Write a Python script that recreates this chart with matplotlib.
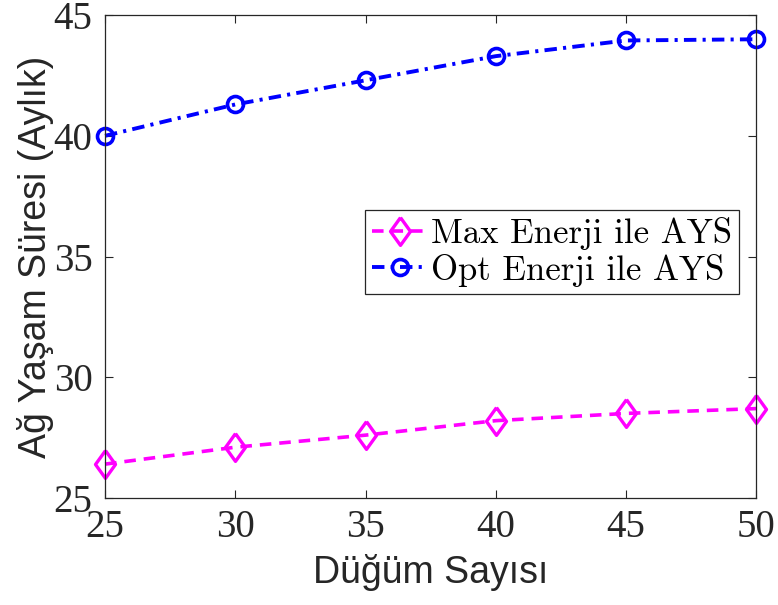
import matplotlib
matplotlib.use("Agg")
import matplotlib.pyplot as plt

plt.rcParams["font.family"] = ["Liberation Serif", "DejaVu Serif"]

nodes = [25, 30, 35, 40, 45, 50]
max_energy = [26.4, 27.1, 27.6, 28.2, 28.5, 28.7]
opt_energy = [40.0, 41.3, 42.3, 43.3, 43.95, 44.0]
xticks = [25, 30, 35, 40, 45, 50]
yticks = [25, 30, 35, 40, 45]
labels = ["Max Enerji ile AYS", "Opt Enerji ile AYS"]

fig = plt.figure(figsize=(7.78, 6.05), dpi=100)
ax = fig.add_axes([0.135, 0.177, 0.837, 0.798])

diamond = [(0, 1), (0.72, 0), (0, -1), (-0.72, 0), (0, 1)]
ax.plot(nodes, max_energy, linestyle=(0, (3.2, 2.2)), color="#ff00ff", lw=2.6,
        marker=diamond, markersize=20, markerfacecolor="none",
        markeredgecolor="#ff00ff", markeredgewidth=2.4, label=labels[0], clip_on=False)
ax.plot(nodes, opt_energy, linestyle=(0, (3.2, 1.6, 0.8, 1.6)), color="#0000ff", lw=2.8,
        marker="o", markersize=11.5, markerfacecolor="none",
        markeredgecolor="#0000ff", markeredgewidth=2.6, label=labels[1], clip_on=False)

ax.set_xlim(25, 50)
ax.set_ylim(25, 45)
tick_font = dict(fontfamily="Liberation Serif", fontsize=28, color="#262626")
ax.set_xticks(xticks, labels=[str(v) for v in xticks], **tick_font)
ax.set_yticks(yticks, labels=[str(v) for v in yticks], **tick_font)
ax.tick_params(axis="both", direction="in", top=True, right=True, length=6, width=0.8,
               color="#262626")
ax.tick_params(axis="x", pad=8)
ax.tick_params(axis="y", pad=9)
for s in ax.spines.values():
    s.set_color("#262626")
    s.set_linewidth(0.9)

ax.set_xlabel("Düğüm Sayısı", fontfamily="Liberation Sans", fontsize=27, color="#262626", labelpad=6)
ax.set_ylabel("Ağ Yaşam Süresi (Aylık)", fontfamily="Liberation Sans", fontsize=27, color="#262626", labelpad=0)

leg = ax.legend(loc="upper right", bbox_to_anchor=(0.974, 0.596), prop={"family": "cmr10", "size": 25},
                frameon=True, fancybox=False, edgecolor="#262626", framealpha=1,
                handlelength=1.6, handletextpad=0.1, borderpad=0.2, labelspacing=0.1,
                borderaxespad=0)
leg.get_frame().set_linewidth(0.9)

fig.savefig("out.png", dpi=100)
